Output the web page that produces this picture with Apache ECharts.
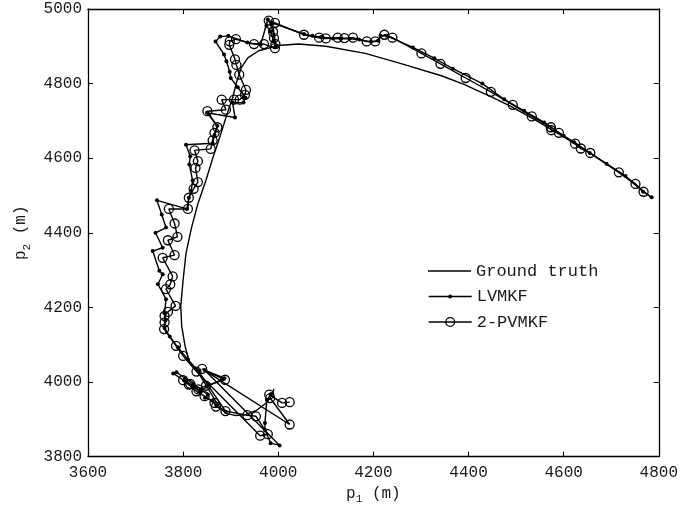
<!DOCTYPE html>
<html>
<head>
<meta charset="utf-8">
<script src="https://cdn.jsdelivr.net/npm/echarts@6/dist/echarts.min.js"></script>
<style>
html,body{margin:0;padding:0;background:#fff;}
#chart{width:681px;height:510px;}
</style>
</head>
<body>
<div id="chart"></div>
<script>
// Axis ranges
const xRange = [3600, 4800, 200];
const yRange = [3800, 5000, 200];

// Series names
const seriesNames = ['Ground truth', 'LVMKF', '2-PVMKF'];

// Ground truth trajectory [p1, p2]
const groundTruth = [
  [3991,3981],[3986,3963],[3974,3943],[3953,3923],[3932,3913],[3911,3910],[3890,3916],
  [3876,3933],[3855,3977],[3827,4035],[3813,4053],[3804,4097],[3797,4150],[3795,4204],
  [3800,4274],[3806,4345],[3818,4416],[3831,4478],[3848,4541],[3863,4603],[3877,4656],
  [3890,4709],[3904,4762],[3913,4807],[3922,4842],[3936,4869],[3959,4888],[3999,4902],
  [4043,4906],[4100,4900],[4183,4881],[4260,4853],[4343,4821],[4392,4797],[4412,4785],
  [4447,4765],[4489,4739],[4540,4703],[4600,4657],[4660,4610],[4720,4560],[4785,4494]
];

// LVMKF estimates [p1, p2]
const lvmkf = [
  [3985,3968],[3976,3952],[3972,3890],[3972,3872],[3984,3836],[4003,3830],
  [3845,4032],[3887,4010],[3850,3988],[3836,3974],[3820,3988],[3802,4004],[3779,4023],
  [3786,4026],[3804,4010],[3822,3994],[3838,3980],[3852,3966],[3846,3958],[3862,3950],
  [3870,3936],[3890,3920],[3832,4030],[3810,4060],[3789,4093],[3772,4122],[3761,4145],
  [3763,4165],[3761,4184],[3764,4222],[3747,4262],[3757,4289],[3750,4298],[3736,4351],
  [3757,4360],[3742,4400],[3764,4414],[3755,4449],[3745,4487],[3808,4464],[3812,4494],
  [3817,4512],[3820,4540],[3813,4583],[3815,4605],[3806,4636],[3862,4640],[3866,4662],
  [3872,4687],[3850,4722],[3909,4709],[3904,4749],[3927,4749],[3931,4762],[3915,4790],
  [3900,4815],[3898,4832],[3891,4860],[3886,4878],[3868,4913],[3878,4926],[3895,4928],
  [3935,4910],[3963,4904],[3978,4972],[3975,4955],[3984,4940],[3990,4915],[3995,4900],
  [3988,4962],[4054,4933],[4072,4928],[4090,4925],[4115,4921],[4131,4920],[4150,4920],
  [4170,4918],[4195,4912],[4210,4915],[4215,4928],[4228,4928],[4283,4897],[4328,4868],
  [4367,4840],[4429,4800],[4475,4758],[4517,4727],[4559,4696],[4600,4660],[4622,4643],
  [4655,4614],[4690,4585],[4730,4552],[4767,4510],[4785,4495]
];

// 2-PVMKF estimates [p1, p2]
const pvmkf = [
  [4024,3946],[4008,3944],[3981,3966],[3983,3957],[4024,3886],[3840,4035],[3888,4006],
  [3848,3990],[3832,3980],[3815,3995],[3800,4005],[3812,3993],[3828,3975],[3845,3962],
  [3866,3944],[3869,3934],[3889,3922],[3935,3911],[3953,3908],[3978,3860],[3962,3856],
  [3828,4028],[3800,4070],[3785,4097],[3760,4142],[3761,4160],[3761,4177],[3768,4188],
  [3784,4204],[3764,4249],[3773,4262],[3778,4283],[3757,4333],[3782,4340],[3768,4380],
  [3788,4389],[3782,4425],[3770,4464],[3810,4464],[3812,4494],[3822,4518],[3831,4536],
  [3826,4574],[3831,4592],[3824,4621],[3858,4625],[3862,4648],[3866,4668],[3872,4683],
  [3851,4726],[3890,4730],[3881,4757],[3907,4757],[3919,4757],[3930,4770],[3932,4783],
  [3918,4824],[3912,4850],[3909,4865],[3897,4904],[3898,4913],[3911,4919],[3949,4906],
  [3970,4906],[3993,4895],[3994,4906],[3991,4922],[3989,4939],[3980,4969],[3993,4963],
  [4054,4931],[4086,4923],[4100,4921],[4125,4923],[4139,4922],[4157,4923],[4186,4913],
  [4204,4913],[4223,4931],[4240,4923],[4301,4881],[4341,4853],[4394,4815],[4447,4778],
  [4493,4743],[4533,4712],[4573,4683],[4574,4675],[4590,4668],[4624,4639],[4636,4626],
  [4656,4614],[4716,4562],[4751,4531],[4768,4510]
];

const MONO = 'Liberation Mono';
const INK = '#000';
const TXT = '#1a1a1a';
const LW = 1.4;

function plain(v) { return String(v); }

function mkAxis(pos, range, showLabel, extra) {
  return Object.assign({
    type: 'value',
    position: pos,
    min: range[0], max: range[1], interval: range[2],
    axisLine: {show: true, onZero: false, lineStyle: {color: INK, width: 1.3}},
    axisTick: {show: true, inside: true, length: 5, lineStyle: {color: INK, width: 1}},
    axisLabel: {show: showLabel, color: TXT, fontFamily: MONO, fontSize: 16, formatter: plain},
    splitLine: {show: false}
  }, extra || {});
}

const nameRich = {
  a: {fontFamily: MONO, fontSize: 16, color: TXT},
  b: {fontFamily: MONO, fontSize: 11, color: TXT, padding: [12, 0, 0, 0]}
};

const chart = echarts.init(document.getElementById('chart'), null, {renderer: 'canvas'});
chart.setOption({
  animation: false,
  backgroundColor: '#fff',
  grid: {left: 88, right: 19, top: 9, bottom: 52},
  xAxis: [
    mkAxis('bottom', xRange, true, {
      name: '{a|p}{b|1}{a| (m)}', nameLocation: 'middle', nameGap: 20,
      nameTextStyle: {rich: nameRich},
      axisLabel: {show: true, color: TXT, fontFamily: MONO, fontSize: 16, margin: 8, formatter: plain}
    }),
    mkAxis('top', xRange, false)
  ],
  yAxis: [
    mkAxis('left', yRange, true, {
      name: '{a|p}{b|2}{a| (m)}', nameLocation: 'middle', nameGap: 55,
      nameTextStyle: {rich: nameRich},
      axisLabel: {show: true, color: TXT, fontFamily: MONO, fontSize: 16, margin: 6, formatter: plain}
    }),
    mkAxis('right', yRange, false)
  ],
  legend: [
    {
      data: [{name: seriesNames[0], icon: 'path://M0,0H43V1.5H0Z'}],
      orient: 'vertical', left: 428, top: 262, padding: 0,
      itemWidth: 43, itemHeight: 14,
      textStyle: {fontFamily: MONO, fontSize: 17, color: TXT, lineHeight: 18},
      itemStyle: {color: INK}
    },
    {
      data: [seriesNames[1]],
      orient: 'vertical', left: 428, top: 287.5, padding: 0,
      itemWidth: 43, itemHeight: 5,
      textStyle: {fontFamily: MONO, fontSize: 17, color: TXT, lineHeight: 18},
      itemStyle: {color: INK, borderWidth: 0},
      lineStyle: {color: INK, width: LW}
    },
    {
      data: [seriesNames[2]],
      orient: 'vertical', left: 428, top: 313, padding: 0,
      itemWidth: 43, itemHeight: 11,
      textStyle: {fontFamily: MONO, fontSize: 17, color: TXT, lineHeight: 18},
      itemStyle: {color: 'rgba(0,0,0,0)', borderColor: INK, borderWidth: 1.3},
      lineStyle: {color: INK, width: LW}
    }
  ],
  series: [
    {
      name: seriesNames[0], type: 'line', data: groundTruth,
      showSymbol: false, symbol: 'none', smooth: false,
      lineStyle: {color: INK, width: LW}, itemStyle: {color: INK},
      z: 2
    },
    {
      name: seriesNames[1], type: 'line', data: lvmkf,
      symbol: 'circle', symbolSize: 4, showSymbol: true, smooth: false,
      lineStyle: {color: INK, width: LW}, itemStyle: {color: INK},
      z: 3
    },
    {
      name: seriesNames[2], type: 'line', data: pvmkf,
      symbol: 'circle', symbolSize: 9, showSymbol: true, smooth: false,
      lineStyle: {color: INK, width: LW},
      itemStyle: {color: 'rgba(0,0,0,0)', borderColor: INK, borderWidth: 1.3},
      z: 4
    }
  ]
});
</script>
</body>
</html>
